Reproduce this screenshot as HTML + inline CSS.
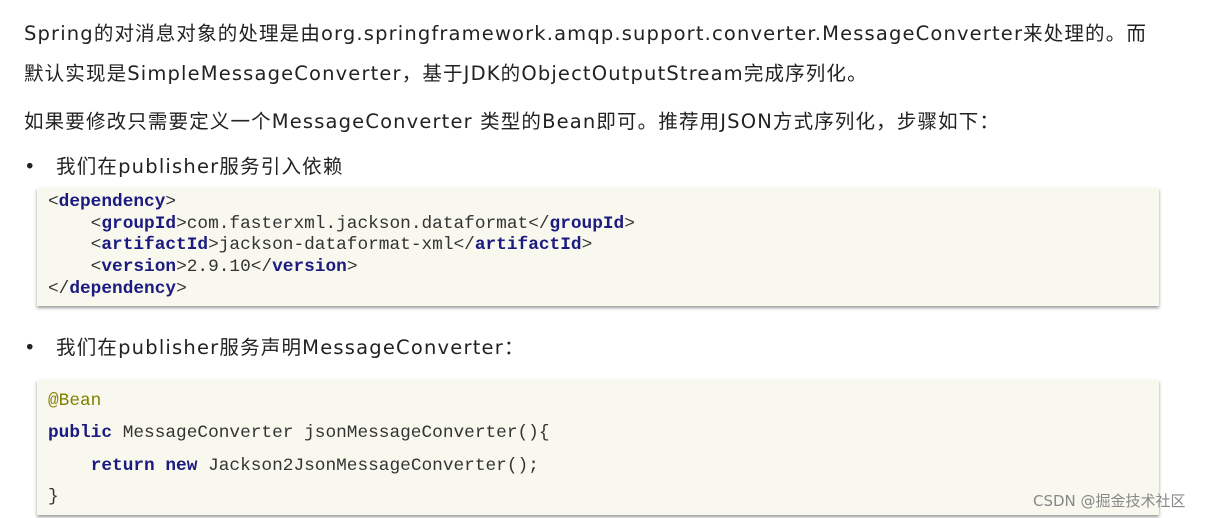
<!DOCTYPE html>
<html><head><meta charset="utf-8"><style>
body{margin:0;width:1219px;height:518px;background:#fff;overflow:hidden;position:relative;font-family:"DejaVu Sans","Noto Sans CJK SC",sans-serif;color:#222}
.t{position:absolute;left:24px;font-size:19.5px;white-space:nowrap;line-height:24px;letter-spacing:1.15px}
.b{position:absolute;left:24px;font-size:19.5px;line-height:24px;white-space:nowrap;letter-spacing:1.2px}
.b span{position:absolute;left:32px}
.box{position:absolute;left:37px;width:1122px;background:#f8f8ef;box-shadow:0 2px 3px #999;font-family:"Liberation Mono",monospace;font-size:17.8px;color:#333;white-space:pre}
.k{color:#1a1a80;font-weight:bold}
.box div{position:absolute;left:11px}
</style></head><body>
<div class="t" style="top:22px">Spring的对消息对象的处理是由org.springframework.amqp.support.converter.MessageConverter来处理的。而</div>
<div class="t" style="top:62px">默认实现是SimpleMessageConverter，基于JDK的ObjectOutputStream完成序列化。</div>
<div class="t" style="top:110px">如果要修改只需要定义一个MessageConverter 类型的Bean即可。推荐用JSON方式序列化，步骤如下：</div>
<div class="b" style="top:155px">•<span>我们在publisher服务引入依赖</span></div>
<div class="box" style="top:188px;height:118px">
<div style="top:4px">&lt;<span class="k">dependency</span>&gt;</div>
<div style="top:26px">    &lt;<span class="k">groupId</span>&gt;com.fasterxml.jackson.dataformat&lt;/<span class="k">groupId</span>&gt;</div>
<div style="top:47px">    &lt;<span class="k">artifactId</span>&gt;jackson-dataformat-xml&lt;/<span class="k">artifactId</span>&gt;</div>
<div style="top:69px">    &lt;<span class="k">version</span>&gt;2.9.10&lt;/<span class="k">version</span>&gt;</div>
<div style="top:91px">&lt;/<span class="k">dependency</span>&gt;</div>
</div>
<div class="b" style="top:336px">•<span>我们在publisher服务声明MessageConverter：</span></div>
<div class="box" style="top:380px;height:135px">
<div style="top:11px;color:#808000">@Bean</div>
<div style="top:43px"><span class="k">public</span> MessageConverter jsonMessageConverter(){</div>
<div style="top:76px">    <span class="k">return new</span> Jackson2JsonMessageConverter();</div>
<div style="top:107px">}</div>
</div>
<div style="position:absolute;left:1033px;top:490px;font-size:15px;color:#888">CSDN @掘金技术社区</div>
</body></html>
